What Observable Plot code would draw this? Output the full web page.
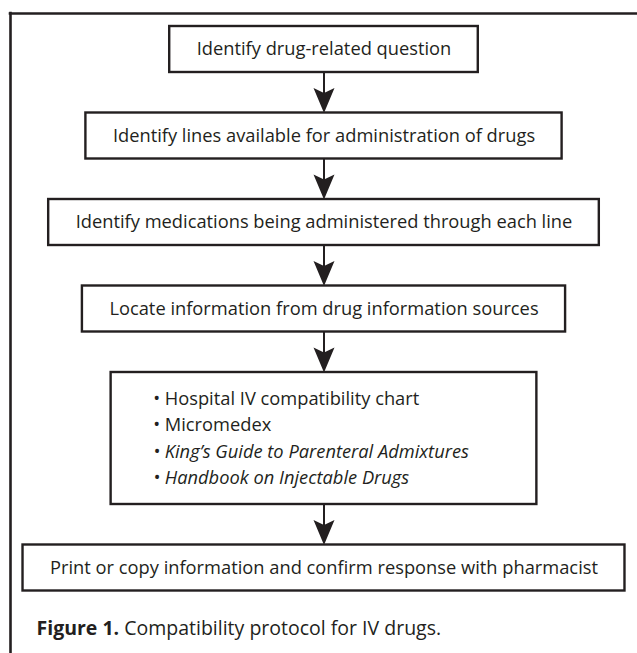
<!DOCTYPE html>
<html>
<head>
<meta charset="utf-8">
<script src="https://cdn.jsdelivr.net/npm/d3@7"></script>
<script src="https://cdn.jsdelivr.net/npm/@observablehq/plot@0.6"></script>
<style>
  html, body { margin: 0; padding: 0; background: #fff; }
  #chart svg { display: block; }
</style>
</head>
<body>
<div id="chart"></div>
<script>
// ---- Data (text content of the flowchart) ----
const steps = [
  "Identify drug-related question",
  "Identify lines available for administration of drugs",
  "Identify medications being administered through each line",
  "Locate information from drug information sources",
  "Print or copy information and confirm response with pharmacist"
];
const sources = [
  "Hospital IV compatibility chart",
  "Micromedex",
  "King\u2019s Guide to Parenteral Admixtures",
  "Handbook on Injectable Drugs"
];
const sourceItalic = [false, false, true, true];
const captionLabel = "Figure 1.";
const captionText = "Compatibility protocol for IV drugs.";

// ---- Style / layout constants ----
const W = 637, H = 653;
const ink = "#231f20";
const family = "'Open Sans', sans-serif";
const fontSize = 18.3;
const captionSize = 19.5;
const cx = 323.5;
const top0 = 26, boxH = 46, gap = 40.5, pad = 27;
const listLineH = 26.5, listPadV = 26, listPadL = 42, listPadR = 68;
const frameX = 10, frameTop = 13;

const ctx = document.createElement("canvas").getContext("2d");
function measure(s, style = "normal") {
  ctx.font = `${style} ${fontSize}px 'Open Sans'`;
  return ctx.measureText(s).width;
}

// flow order: four steps, the list of sources, then the last step
const flow = [...steps.slice(0, 4), sources, steps[4]];

const boxes = [], boxTexts = [], listItems = [], arrows = [];
let y = top0;
flow.forEach((node, i) => {
  if (Array.isArray(node)) {
    const items = node.map((s, j) => ({text: "\u2022 " + s, italic: sourceItalic[j]}));
    items.forEach(d => d.w = measure(d.text, d.italic ? "italic" : "normal"));
    const maxW = d3.max(items, d => d.w);
    const bw = maxW + listPadL + listPadR;
    const bh = node.length * listLineH + listPadV;
    const x1 = cx - bw / 2;
    boxes.push({x1, x2: x1 + bw, y1: y, y2: y + bh});
    const mid = y + bh / 2;
    items.forEach((d, j) => listItems.push({...d, x: x1 + listPadL, y: mid + (j - (node.length - 1) / 2) * listLineH}));
    y += bh;
  } else {
    const w = measure(node);
    const bw = w + 2 * pad;
    boxes.push({x1: cx - bw / 2, x2: cx + bw / 2, y1: y, y2: y + boxH});
    boxTexts.push({text: node, x: cx, y: y + boxH / 2});
    y += boxH;
  }
  if (i < flow.length - 1) {
    arrows.push({x: cx, y1: y, y2: y + gap});
    y += gap;
  }
});
const captionY = y + 38;

// arrowhead symbol: tip at (0,0), pointing down
const arrowHead = {
  draw(context) {
    context.moveTo(0, 0);
    context.lineTo(-10.5, -25);
    context.lineTo(0, -20);
    context.lineTo(10.5, -25);
    context.closePath();
  }
};

const plot = Plot.plot({
  width: W,
  height: H,
  margin: 0,
  x: {domain: [0, W], range: [0, W], axis: null},
  y: {domain: [0, H], range: [0, H], axis: null},
  style: {background: "white"},
  marks: [
    Plot.ruleX([frameX], {x: d => d, y1: frameTop - 1.3, y2: H + 20, stroke: ink, strokeWidth: 2.6}),
    Plot.ruleY([frameTop], {y: d => d, x1: frameX - 1.3, x2: W + 20, stroke: ink, strokeWidth: 2.6}),
    Plot.ruleX(arrows, {x: "x", y1: "y1", y2: d => d.y2 - 10, stroke: ink, strokeWidth: 2}),
    Plot.dot(arrows, {x: "x", y: "y2", symbol: arrowHead, r: 10, fill: ink, stroke: "none"}),
    Plot.rect(boxes, {x1: "x1", x2: "x2", y1: "y1", y2: "y2", fill: "white", stroke: ink, strokeWidth: 2.4}),
    Plot.text(boxTexts, {x: "x", y: "y", text: "text", fontSize, fontFamily: family, fill: ink}),
    Plot.text(listItems.filter(d => !d.italic), {x: "x", y: "y", text: "text", textAnchor: "start", fontSize, fontFamily: family, fill: ink}),
    Plot.text(listItems.filter(d => d.italic), {x: "x", y: "y", text: "text", textAnchor: "start", fontSize, fontFamily: family, fontStyle: "italic", fill: ink}),
    Plot.text([captionLabel + " " + captionText], {x: frameX + 26, y: captionY, text: d => d, textAnchor: "start", fontSize: captionSize, fontFamily: family, fill: ink, className: "caption"})
  ]
});

document.getElementById("chart").appendChild(plot);

// caption: bold label followed by regular text
d3.select(plot).selectAll("g.caption text").each(function() {
  const t = d3.select(this);
  t.text(null);
  t.append("tspan").attr("font-weight", "bold").text(captionLabel);
  t.append("tspan").text(" " + captionText);
});
</script>
</body>
</html>
